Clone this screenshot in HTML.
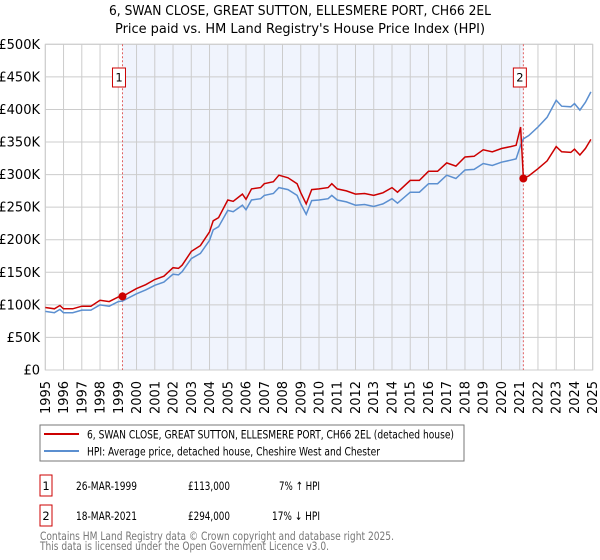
<!DOCTYPE html>
<html><head><meta charset="utf-8"><style>
body{margin:0;width:600px;height:560px;background:#fff;font-family:"DejaVu Sans","Liberation Sans",sans-serif;overflow:hidden}
svg{display:block}
</style></head><body>
<svg width="600" height="560" xmlns="http://www.w3.org/2000/svg" id="svg">
<text x="109" y="15" font-size="13" fill="#000" textLength="382" lengthAdjust="spacingAndGlyphs">6, SWAN CLOSE, GREAT SUTTON, ELLESMERE PORT, CH66 2EL</text>
<text x="115" y="33" font-size="13" fill="#000" textLength="370" lengthAdjust="spacingAndGlyphs">Price paid vs. HM Land Registry's House Price Index (HPI)</text>
<g id="plot"></g>
<g>
<rect x="40" y="425" width="424" height="36" fill="#fff" stroke="#777"/>
<line x1="44" y1="434" x2="79" y2="434" stroke="#cc0000" stroke-width="2"/>
<text x="87" y="438.5" font-size="11.5" textLength="367" lengthAdjust="spacingAndGlyphs">6, SWAN CLOSE, GREAT SUTTON, ELLESMERE PORT, CH66 2EL (detached house)</text>
<line x1="44" y1="451" x2="79" y2="451" stroke="#5b8fd0" stroke-width="2"/>
<text x="87" y="455.5" font-size="11.5" textLength="293" lengthAdjust="spacingAndGlyphs">HPI: Average price, detached house, Cheshire West and Chester</text>
</g>
<g font-size="11.5">
<rect x="40" y="475" width="12" height="21" fill="#fff" stroke="#cc0000"/>
<text x="46" y="490" text-anchor="middle">1</text>
<text x="76" y="490" textLength="61" lengthAdjust="spacingAndGlyphs">26-MAR-1999</text>
<text x="188" y="490" textLength="42" lengthAdjust="spacingAndGlyphs">£113,000</text>
<text x="279" y="490" textLength="41" lengthAdjust="spacingAndGlyphs">7% ↑ HPI</text>
<rect x="40" y="505" width="12" height="21" fill="#fff" stroke="#cc0000"/>
<text x="46" y="520" text-anchor="middle">2</text>
<text x="76" y="520" textLength="61" lengthAdjust="spacingAndGlyphs">18-MAR-2021</text>
<text x="188" y="520" textLength="42" lengthAdjust="spacingAndGlyphs">£294,000</text>
<text x="272" y="520" textLength="48" lengthAdjust="spacingAndGlyphs">17% ↓ HPI</text>
</g>
<text x="40" y="540" font-size="11.5" fill="#777" textLength="354" lengthAdjust="spacingAndGlyphs">Contains HM Land Registry data © Crown copyright and database right 2025.</text>
<text x="40" y="550" font-size="11.5" fill="#777" textLength="289" lengthAdjust="spacingAndGlyphs">This data is licensed under the Open Government Licence v3.0.</text>
</svg>
<script>
const dates=[1995.0,1995.5,1995.8,1996.0,1996.5,1997.0,1997.5,1998.0,1998.5,1999.0,1999.23,2000.0,2000.5,2001.0,2001.5,2002.0,2002.3,2002.5,2003.0,2003.5,2004.0,2004.2,2004.5,2005.0,2005.3,2005.8,2006.0,2006.3,2006.8,2007.0,2007.5,2007.8,2008.3,2008.8,2009.0,2009.3,2009.6,2010.0,2010.5,2010.7,2011.0,2011.5,2012.0,2012.5,2013.0,2013.5,2014.0,2014.3,2015.0,2015.5,2016.0,2016.5,2017.0,2017.5,2018.0,2018.5,2019.0,2019.5,2020.0,2020.5,2020.8,2021.05,2021.2,2021.5,2022.0,2022.5,2023.0,2023.3,2023.8,2024.0,2024.3,2024.6,2024.9];
const hpi=[90,88,93,88,88,92,92,100,98,105,106,117,123,130,135,147,146,151,171,179,199,215,220,245,243,253,246,261,263,268,271,280,277,268,255,239,260,261,263,268,261,258,253,254,251,255,263,256,273,273,286,286,299,294,307,308,317,314,319,322,324,345,355,360,373,388,414,405,404,409,399,411,427];
const price=[96,94,99,94,94,98,98,107,105,112,113,125,131,139,144,157,156,161,182,191,212,229,234,261,259,270,262,278,280,286,289,299,295,286,272,255,277,278,280,286,278,275,270,271,268,272,280,273,291,291,305,305,318,313,327,328,338,335,340,343,345,373,294,298,309,321,343,335,334,339,330,340,354];
const sales=[[1999.23,113],[2021.2,294]];
const yTicks=[0,50,100,150,200,250,300,350,400,450,500];
const yLabels=["£0","£50K","£100K","£150K","£200K","£250K","£300K","£350K","£400K","£450K","£500K"];
const years=[1995,1996,1997,1998,1999,2000,2001,2002,2003,2004,2005,2006,2007,2008,2009,2010,2011,2012,2013,2014,2015,2016,2017,2018,2019,2020,2021,2022,2023,2024,2025];
const X0=45.3,X1=592.7,Y0=370,Y1=44.3;
const xs=t=>X0+(t-1995)/30*(X1-X0);
const ys=v=>Y0-v/500*(Y0-Y1);
const NS="http://www.w3.org/2000/svg";
const g=document.getElementById('plot');
function mk(tag,attrs,parent){const e=document.createElementNS(NS,tag);for(const k in attrs)e.setAttribute(k,attrs[k]);(parent||g).appendChild(e);return e;}
let e;
e=mk('rect',{x:X0,y:Y1,width:X1-X0,height:Y0-Y1,fill:'#fff'});


e=mk('rect',{x:xs(sales[0][0]),y:Y1,width:xs(sales[1][0])-xs(sales[0][0]),height:Y0-Y1,fill:'#f0f4fd'});


years.forEach((yr,i)=>{
 e=mk('line',{x1:xs(yr),x2:xs(yr),y1:Y1,y2:Y0,stroke:'#ccc','stroke-width':1});
 
 
 const tx=xs(yr)+4.5, ty=414;
 e=mk('text',{x:tx,y:ty,'font-size':13,transform:`rotate(-90 ${tx} ${ty})`});
 e.textContent=yr;
 
 
});
yTicks.forEach((v,i)=>{
 e=mk('line',{x1:X0,x2:X1,y1:ys(v),y2:ys(v),stroke:'#ccc','stroke-width':1});
 
 
 e=mk('text',{x:40,y:ys(v)+4.5,'font-size':13,'text-anchor':'end'});
 e.textContent=yLabels[i];
 
 
});
e=mk('rect',{x:X0,y:Y1,width:X1-X0,height:Y0-Y1,fill:'none',stroke:'#ccc'});


sales.forEach((s,i)=>{
 e=mk('line',{x1:xs(s[0]),x2:xs(s[0]),y1:Y1,y2:Y0,stroke:'#e06060','stroke-dasharray':'2,2','stroke-width':1});
 
 
 e=mk('rect',{x:xs(s[0])-10,y:68,width:13,height:19,fill:'#fff',stroke:'#cc0000'});
 
 
 e=mk('text',{x:xs(s[0])-3.5,y:81.5,'font-size':11.5,'text-anchor':'middle'});
 e.textContent=String(i+1);
 
 
});
const pts=a=>dates.map((d,i)=>xs(d).toFixed(1)+','+ys(a[i]).toFixed(1)).join(' ');
e=mk('polyline',{points:pts(hpi),fill:'none',stroke:'#5b8fd0','stroke-width':1.5});


e=mk('polyline',{points:pts(price),fill:'none',stroke:'#cc0000','stroke-width':1.5});


sales.forEach(s=>{
 e=mk('circle',{cx:xs(s[0]),cy:ys(s[1]),r:4,fill:'#cc0000'});
 
 
});
</script>
</body></html>
